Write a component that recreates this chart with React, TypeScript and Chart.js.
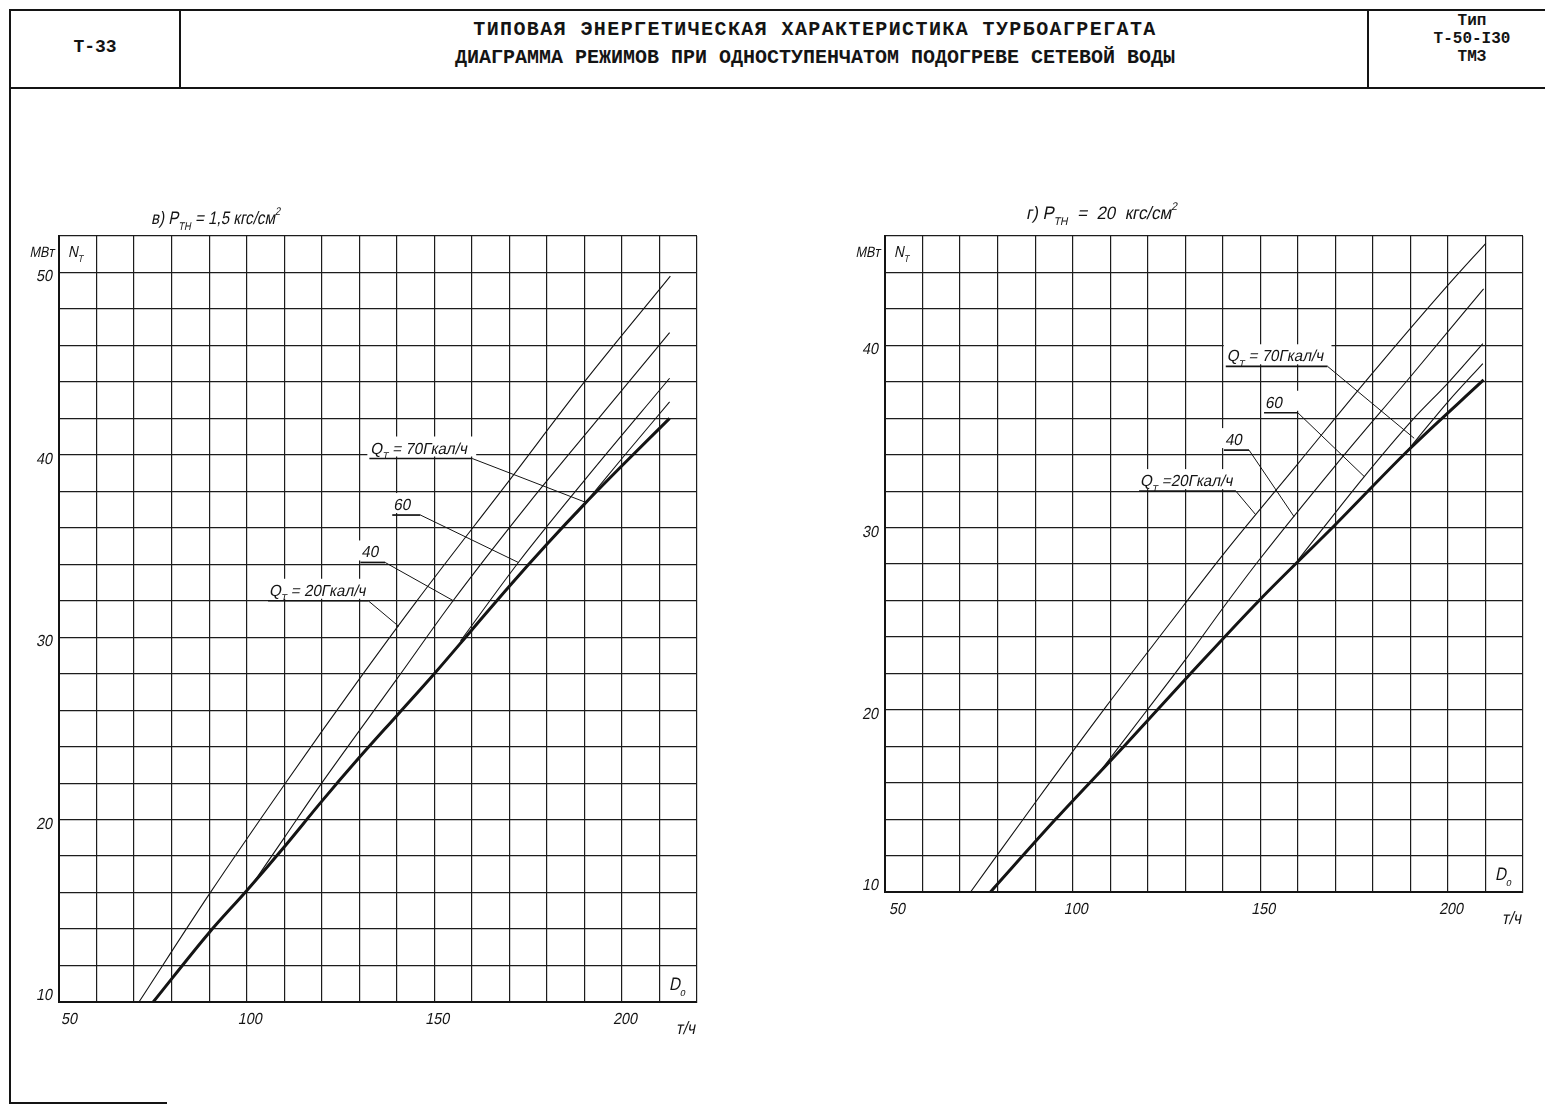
import React, { useEffect, useRef } from "react";
import { Chart, registerables } from "chart.js";
Chart.register(...registerables);

// ---------------- data ----------------
const X_MIN = 50;
const X_MAX = 220;
const X_TICK_LABELS = [50, 100, 150, 200];
const Y_TICK_LABELS_LEFT = [10, 20, 30, 40, 50];
const Y_TICK_LABELS_RIGHT = [10, 20, 30, 40];
const Q_LEVELS = [20, 40, 60, 70];

// в) P_TH = 1,5 кгс/см²
const L_BASE_D = [75.1, 90, 100, 110, 120, 130, 140, 150, 160, 170, 180, 190, 200, 212.7];
const L_BASE_N = [10, 13.8, 16.1, 18.5, 21.0, 23.4, 25.7, 28.0, 30.4, 32.8, 35.1, 37.3, 39.4, 42.0];
const L_Q20_D = [71.3, 90, 110, 130, 145, 170, 190, 212.9];
const L_Q20_N = [10, 15.9, 21.9, 27.7, 31.9, 38.6, 44.0, 49.8];
const L_Q40_D = [101, 110, 120, 140, 155, 175, 195, 212.7];
const L_Q40_N = [16.3, 19.0, 22.0, 27.7, 32.0, 37.3, 42.3, 46.7];
const L_Q60_D = [157, 172.4, 190, 212.7];
const L_Q60_N = [29.8, 34.1, 38.6, 44.2];
const L_Q70_D = [188, 200, 212.7];
const L_Q70_N = [36.8, 39.8, 42.9];

// г) P_TH = 20 кгс/см²
const R_BASE_D = [78.1, 95.5, 113.7, 131.5, 149.7, 169.7, 189.7, 209.5];
const R_BASE_N = [10, 14.0, 18.0, 22.0, 26.0, 30.1, 34.3, 38.1];
const R_Q20_D = [72.8, 90, 109, 125, 140.4, 160, 180, 200, 210.1];
const R_Q20_N = [10, 14.9, 20.2, 24.5, 28.6, 33.5, 38.5, 43.3, 45.6];
const R_Q40_D = [108, 119.9, 130.6, 140.1, 150, 170, 190.5, 209.5];
const R_Q40_N = [16.8, 20.0, 22.9, 25.6, 28.3, 33.4, 38.4, 43.1];
const R_Q60_D = [160, 177.7, 190.5, 200.3, 209.3];
const R_Q60_N = [28.2, 32.8, 35.9, 38.0, 40.1];
const R_Q70_D = [187.5, 200, 209.3];
const R_Q70_N = [33.8, 36.9, 39.0];

// ---------------- styling / layout ----------------
const HAND = "'Liberation Sans', 'DejaVu Sans', Arial, sans-serif";
const INK = "#141414";
const SKEW = -0.2;

type Part = { t: string; sub?: boolean; sup?: boolean };

function measureRich(ctx: CanvasRenderingContext2D, parts: Part[], size: number, sx: number) {
  let w = 0;
  for (const p of parts) {
    const s = p.sub || p.sup ? size * 0.62 : size;
    ctx.font = `${s}px ${HAND}`;
    w += ctx.measureText(p.t).width;
  }
  return w * sx;
}

function drawRich(
  ctx: CanvasRenderingContext2D,
  x: number,
  y: number,
  parts: Part[],
  size: number,
  align: "left" | "right" | "center" = "left",
  sx = 0.86
) {
  const w = measureRich(ctx, parts, size, sx);
  let x0 = x;
  if (align === "right") x0 = x - w;
  if (align === "center") x0 = x - w / 2;
  ctx.save();
  ctx.transform(sx, 0, SKEW, 1, x0, y);
  ctx.textAlign = "left";
  ctx.textBaseline = "alphabetic";
  ctx.fillStyle = INK;
  let cx = 0;
  for (const p of parts) {
    const s = p.sub || p.sup ? size * 0.62 : size;
    ctx.font = `${s}px ${HAND}`;
    const dy = p.sub ? size * 0.34 : p.sup ? -size * 0.5 : 0;
    ctx.fillText(p.t, cx - SKEW * dy, dy);
    cx += ctx.measureText(p.t).width;
  }
  ctx.restore();
  return w;
}

type Label = {
  parts: Part[];
  uFrom: number; // underline start (D)
  uTo: number; // underline end (D)
  uN: number; // underline level (N)
  tD: number; // leader target D
  tN: number; // leader target N
};

const qParts = (v: string, sp = " "): Part[] => [
  { t: "Q" },
  { t: "T", sub: true },
  { t: ` =${sp}${v}Гкал/ч` },
];

const LEFT_LABELS: Label[] = [
  { parts: qParts("70"), uFrom: 132.7, uTo: 160.1, uN: 39.8, tD: 190.3, tN: 37.4 },
  { parts: [{ t: "60" }], uFrom: 138.8, uTo: 146.3, uN: 36.7, tD: 172.4, tN: 34.1 },
  { parts: [{ t: "40" }], uFrom: 130.3, uTo: 136.9, uN: 34.1, tD: 155.1, tN: 32.0 },
  { parts: qParts("20"), uFrom: 105.7, uTo: 132.4, uN: 32.0, tD: 140.5, tN: 30.6 },
];

const RIGHT_LABELS: Label[] = [
  { parts: qParts("70"), uFrom: 140.8, uTo: 167.9, uN: 38.85, tD: 191, tN: 34.9 },
  { parts: [{ t: "60" }], uFrom: 151, uTo: 160, uN: 36.3, tD: 177.7, tN: 32.8 },
  { parts: [{ t: "40" }], uFrom: 140.3, uTo: 147, uN: 34.25, tD: 159, tN: 30.6 },
  { parts: qParts("20", ""), uFrom: 117.7, uTo: 143.5, uN: 32.0, tD: 148.8, tN: 30.7 },
];

type Spec = {
  width: number;
  height: number;
  padding: { left: number; top: number; right: number; bottom: number };
  yMax: number;
  yTicks: number[];
  series: { name: string; d: number[]; n: number[]; thick?: boolean }[];
  title: Part[];
  titleDx: number;
  titleDy: number;
  titleSx: number;
  labels: Label[];
  firstXShift: number;
};

const LEFT_SPEC: Spec = {
  width: 720,
  height: 860,
  padding: { left: 59, top: 46, right: 23, bottom: 48 },
  yMax: 52,
  yTicks: Y_TICK_LABELS_LEFT,
  series: [
    { name: "base", d: L_BASE_D, n: L_BASE_N, thick: true },
    { name: `Q${Q_LEVELS[0]}`, d: L_Q20_D, n: L_Q20_N },
    { name: `Q${Q_LEVELS[1]}`, d: L_Q40_D, n: L_Q40_N },
    { name: `Q${Q_LEVELS[2]}`, d: L_Q60_D, n: L_Q60_N },
    { name: `Q${Q_LEVELS[3]}`, d: L_Q70_D, n: L_Q70_N },
  ],
  title: [
    { t: "в) Р" },
    { t: "ТН", sub: true },
    { t: " = 1,5 кгс/см" },
    { t: "2", sup: true },
  ],
  titleDx: 92,
  titleDy: -12,
  titleSx: 0.84,
  labels: LEFT_LABELS,
  firstXShift: 10,
};

const RIGHT_SPEC: Spec = {
  width: 725,
  height: 760,
  padding: { left: 65, top: 46, right: 22, bottom: 58 },
  yMax: 46,
  yTicks: Y_TICK_LABELS_RIGHT,
  series: [
    { name: "base", d: R_BASE_D, n: R_BASE_N, thick: true },
    { name: `Q${Q_LEVELS[0]}`, d: R_Q20_D, n: R_Q20_N },
    { name: `Q${Q_LEVELS[1]}`, d: R_Q40_D, n: R_Q40_N },
    { name: `Q${Q_LEVELS[2]}`, d: R_Q60_D, n: R_Q60_N },
    { name: `Q${Q_LEVELS[3]}`, d: R_Q70_D, n: R_Q70_N },
  ],
  title: [
    { t: "г) Р" },
    { t: "ТН", sub: true },
    { t: "  =  20  кгс/см" },
    { t: "2", sup: true },
  ],
  titleDx: 141,
  titleDy: -17,
  titleSx: 0.94,
  labels: RIGHT_LABELS,
  firstXShift: 12,
};

function overlay(spec: Spec) {
  return {
    id: "overlay",
    afterDraw(chart: any) {
      const ctx: CanvasRenderingContext2D = chart.ctx;
      const a = chart.chartArea;
      const xs = chart.scales.x;
      const ys = chart.scales.y;
      ctx.save();

      // y tick labels
      spec.yTicks.forEach((v, i) => {
        const py = ys.getPixelForValue(v) + (i === 0 ? -2 : 9);
        drawRich(ctx, a.left - 7, py, [{ t: String(v) }], 16, "right", 0.9);
      });
      // x tick labels
      X_TICK_LABELS.forEach((v, i) => {
        const px = xs.getPixelForValue(v) + (i === 0 ? spec.firstXShift : 3);
        drawRich(ctx, px, a.bottom + 22, [{ t: String(v) }], 16, "center", 0.9);
      });
      // units
      drawRich(ctx, a.right - 2, a.bottom + 32, [{ t: "т/ч" }], 18, "right", 0.85);
      drawRich(ctx, a.left - 5, a.top + 21, [{ t: "МВт" }], 15, "right", 0.85);
      drawRich(ctx, a.left + 9, a.top + 21, [{ t: "N" }, { t: "T", sub: true }], 16, "left", 0.85);
      drawRich(ctx, a.right - 28, a.bottom - 12, [{ t: "D" }, { t: "o", sub: true }], 18, "left", 0.85);

      // title
      drawRich(ctx, a.left + spec.titleDx, a.top + spec.titleDy, spec.title, 18, "left", spec.titleSx);

      // curve labels with leaders
      ctx.strokeStyle = INK;
      for (const lb of spec.labels) {
        const x1 = xs.getPixelForValue(lb.uFrom);
        const x2 = xs.getPixelForValue(lb.uTo);
        const yu = ys.getPixelForValue(lb.uN);
        const tx = xs.getPixelForValue(lb.tD);
        const ty = ys.getPixelForValue(lb.tN);
        const size = 16;
        const w = measureRich(ctx, lb.parts, size, 0.95);
        ctx.fillStyle = "#ffffff";
        ctx.fillRect(x1 - 2, yu - size - 6, Math.max(w, x2 - x1) + 6, size + 4);
        drawRich(ctx, x1 + 1, yu - 5, lb.parts, size, "left", 0.95);
        ctx.lineWidth = 1.7;
        ctx.beginPath();
        ctx.moveTo(x1, yu);
        ctx.lineTo(x2, yu);
        ctx.stroke();
        ctx.lineWidth = 1;
        ctx.beginPath();
        ctx.moveTo(x2, yu);
        ctx.lineTo(tx, ty);
        ctx.stroke();
      }
      ctx.restore();
    },
  };
}

function buildConfig(spec: Spec): any {
  const datasets = spec.series.map((s) => ({
    label: s.name,
    data: s.d.map((d, i) => ({ x: d, y: s.n[i] })),
    borderColor: INK,
    backgroundColor: INK,
    borderWidth: s.thick ? 3 : 1.1,
    pointRadius: 0,
    pointHoverRadius: 0,
    showLine: true,
    fill: false,
    cubicInterpolationMode: "monotone",
  }));
  const grid = { color: "#1c1c1c", lineWidth: 1.2, drawTicks: false };
  return {
    type: "scatter",
    data: { datasets },
    options: {
      animation: false,
      responsive: false,
      events: [],
      layout: { padding: spec.padding },
      plugins: {
        legend: { display: false },
        tooltip: { enabled: false },
        title: { display: false },
      },
      scales: {
        x: {
          type: "linear",
          min: X_MIN,
          max: X_MAX,
          ticks: { stepSize: 10, display: false },
          grid,
          border: { color: INK, width: 2 },
        },
        y: {
          type: "linear",
          min: 10,
          max: spec.yMax,
          ticks: { stepSize: 2, display: false },
          grid,
          border: { color: INK, width: 2 },
        },
      },
    },
    plugins: [overlay(spec)],
  };
}

const MONO = "'Liberation Mono', 'DejaVu Sans Mono', monospace";

export default function App() {
  const leftRef = useRef<HTMLCanvasElement>(null);
  const rightRef = useRef<HTMLCanvasElement>(null);

  useEffect(() => {
    const c1 = new Chart(leftRef.current as HTMLCanvasElement, buildConfig(LEFT_SPEC));
    const c2 = new Chart(rightRef.current as HTMLCanvasElement, buildConfig(RIGHT_SPEC));
    return () => {
      c1.destroy();
      c2.destroy();
    };
  }, []);

  const line = (style: React.CSSProperties) => (
    <div style={{ position: "absolute", background: INK, ...style }} />
  );

  return (
    <div
      style={{
        position: "absolute",
        left: 0,
        top: 0,
        width: 1545,
        height: 1105,
        background: "#fff",
        overflow: "hidden",
        color: INK,
      }}
    >
      {/* header frame */}
      {line({ left: 9, top: 9, width: 1536, height: 2 })}
      {line({ left: 9, top: 87, width: 1536, height: 2 })}
      {line({ left: 9, top: 9, width: 2, height: 1095 })}
      {line({ left: 179, top: 9, width: 2, height: 80 })}
      {line({ left: 1367, top: 9, width: 2, height: 80 })}
      {line({ left: 9, top: 1102, width: 158, height: 2 })}

      <div
        style={{
          position: "absolute",
          left: 10,
          top: 37,
          width: 170,
          textAlign: "center",
          fontFamily: MONO,
          fontWeight: "bold",
          fontSize: 18,
          lineHeight: "20px",
        }}
      >
        Т-33
      </div>
      <div
        style={{
          position: "absolute",
          left: 415,
          top: 16,
          width: 800,
          textAlign: "center",
          fontFamily: MONO,
          fontWeight: "bold",
          fontSize: 20,
          lineHeight: "28px",
        }}
      >
        <div style={{ letterSpacing: 1.4 }}>ТИПОВАЯ ЭНЕРГЕТИЧЕСКАЯ ХАРАКТЕРИСТИКА ТУРБОАГРЕГАТА</div>
        <div>ДИАГРАММА РЕЖИМОВ ПРИ ОДНОСТУПЕНЧАТОМ ПОДОГРЕВЕ СЕТЕВОЙ ВОДЫ</div>
      </div>
      <div
        style={{
          position: "absolute",
          left: 1372,
          top: 12,
          width: 200,
          textAlign: "center",
          fontFamily: MONO,
          fontWeight: "bold",
          fontSize: 16,
          lineHeight: "18px",
        }}
      >
        <div>Тип</div>
        <div>Т-50-I30</div>
        <div>ТМЗ</div>
      </div>

      <canvas
        ref={leftRef}
        width={LEFT_SPEC.width}
        height={LEFT_SPEC.height}
        style={{ position: "absolute", left: 0, top: 190, width: LEFT_SPEC.width, height: LEFT_SPEC.height }}
      />
      <canvas
        ref={rightRef}
        width={RIGHT_SPEC.width}
        height={RIGHT_SPEC.height}
        style={{ position: "absolute", left: 820, top: 190, width: RIGHT_SPEC.width, height: RIGHT_SPEC.height }}
      />
    </div>
  );
}
